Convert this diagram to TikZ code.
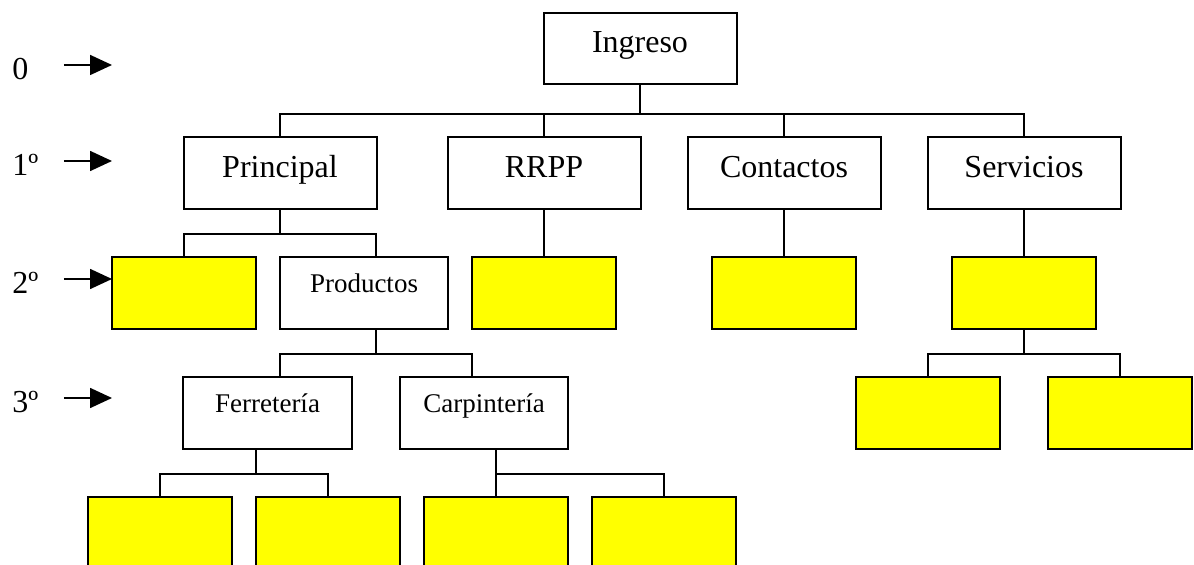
\documentclass[tikz,border=0pt]{standalone}
\usepackage{fontspec}
\setmainfont{Liberation Serif}
\usetikzlibrary{arrows.meta}
\usetikzlibrary{positioning}
\usetikzlibrary{calc}
\definecolor{Amarillo}{rgb}{1,1,0}

\begin{document}
\begin{tikzpicture}[
  x=0.5pt, y=-0.5pt,
  on grid,
  box/.style={draw, line width=1pt, inner sep=0pt, minimum width=96.5pt,
    text height=20.5pt, text depth=15.5pt, font=\fontsize{16}{18}\selectfont},
  smallbox/.style={box, text height=18pt, text depth=18pt,
    font=\fontsize{13.5}{16}\selectfont},
  hoja/.style={draw, line width=1pt, fill=Amarillo, inner sep=0pt,
    minimum width=72pt, minimum height=36pt},
  nivel/.style={anchor=west, inner sep=0pt, text width=25.5pt,
    text height=15pt, text depth=0pt, font=\fontsize{16}{18}\selectfont},
  link/.style={line width=0.9pt},
  flecha/.style={line width=0.85pt, -{Triangle[length=11pt,width=10pt]}},
  ]
\useasboundingbox (0,0) rectangle (1194,565);
\clip (0,0) rectangle (1194,565);

% levels
\node [nivel] (n0) at (12,65) {0};
\node [nivel] (n1) at (12,161) {1º};
\node [nivel] (n2) at (12,279) {2º};
\node [nivel] (n3) at (12,398) {3º};
\coordinate (p0) at (112,65);
\coordinate (p1) at (112,161);
\coordinate (p2) at (112,279);
\coordinate (p3) at (112,398);

% tree
\node [box, text height=20pt] (ingreso) at (640,48.5) {Ingreso};
\node [box] (principal) at (280,173) {Principal};
\node [box] (rrpp) [right=132pt of principal] {RRPP};
\node [box] (contactos) [right=120pt of rrpp] {Contactos};
\node [box] (servicios) [right=120pt of contactos] {Servicios};

\node [hoja] (h1) [below left=60pt and 48pt of principal] {};
\node [smallbox, minimum width=84pt] (productos) [right=90pt of h1] {Productos};
\node [hoja] (h2) [below=60pt of rrpp] {};
\node [hoja] (h3) [below=60pt of contactos] {};
\node [hoja] (h4) [below=60pt of servicios] {};

\node [smallbox, minimum width=84.5pt] (ferreteria) [below left=60pt and 48.25pt of productos] {Ferretería};
\node [smallbox, minimum width=84pt] (carpinteria) [right=108.25pt of ferreteria] {Carpintería};
\node [hoja] (h5) [below left=60pt and 48pt of h4] {};
\node [hoja] (h6) [right=96pt of h5] {};

\node [hoja] (h7) [below left=60pt and 53.75pt of ferreteria] {};
\node [hoja] (h8) [right=84pt of h7] {};
\node [hoja] (h9) [right=84pt of h8] {};
\node [hoja] (h10) [right=84pt of h9] {};

\draw [flecha] (n0.east) -- (p0);
\draw [flecha] (n1.east) -- (p1);
\draw [flecha] (n2.east) -- (p2);
\draw [flecha] (n3.east) -- (p3);

\draw [link] (ingreso.south) -- ++(0,29) coordinate (b0);
\draw [link] (b0) -| (principal.north);
\draw [link] (b0) -| (rrpp.north);
\draw [link] (b0) -| (contactos.north);
\draw [link] (b0) -| (servicios.north);

\draw [link] (principal.south) -- ++(0,24) coordinate (b1);
\draw [link] (b1) -| (h1.north);
\draw [link] (b1) -| ($(productos.north)+(12,0)$);
\draw [link] (rrpp.south) -- (h2.north);
\draw [link] (contactos.south) -- (h3.north);
\draw [link] (servicios.south) -- (h4.north);

\draw [link] ($(productos.south)+(12,0)$) -- ++(0,24) coordinate (b2);
\draw [link] (b2) -| ($(ferreteria.north)+(12.5,0)$);
\draw [link] (b2) -| ($(carpinteria.north)+(-12,0)$);
\draw [link] (h4.south) -- ++(0,24) coordinate (b4);
\draw [link] (b4) -| (h5.north);
\draw [link] (b4) -| (h6.north);

\draw [link] ($(ferreteria.south)+(-11.5,0)$) -- ++(0,24) coordinate (b3);
\draw [link] (b3) -| (h7.north);
\draw [link] (b3) -| (h8.north);
\draw [link] ($(carpinteria.south)+(12,0)$) -- (h9.north);
\draw [link] ($(carpinteria.south)+(12,24)$) -| (h10.north);
\end{tikzpicture}
\end{document}
